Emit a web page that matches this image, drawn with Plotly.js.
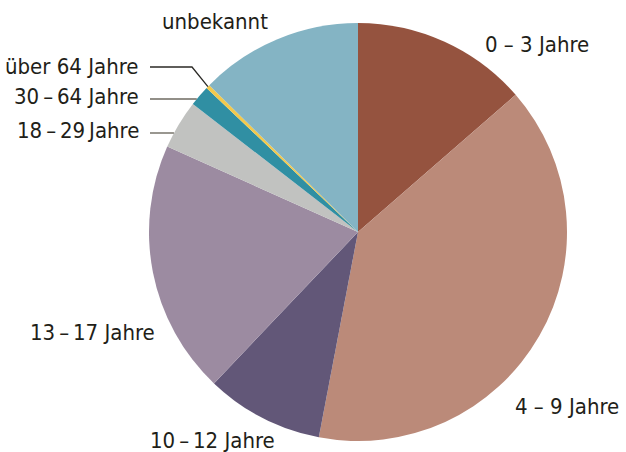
<!DOCTYPE html>
<html><head><meta charset="utf-8">
<script src="https://cdn.plot.ly/plotly-3.0.1.min.js"></script>
<style>html,body{margin:0;padding:0;background:#fff}</style>
</head><body><div id="chart" style="width:626px;height:452px"></div>
<script>
// Data
const categories = ["0 – 3 Jahre", "4 – 9 Jahre", "10\u2009–\u200912 Jahre", "13\u2009–\u200917 Jahre", "18\u2009–\u200929\u2009Jahre", "30\u2009–\u200964 Jahre", "über 64 Jahre", "unbekannt"];
const shares = [13.6, 39.4, 9.1, 19.6, 3.8, 1.6, 0.3, 12.6];
const sliceColors = ["#95533F", "#BB8A79", "#625778", "#9C8BA1", "#C1C2C0", "#308FA3", "#F2C94C", "#84B4C4"];

// Label placement (pixels) – layout only
const labelPos = [
  {x: 483, y: 45, anchor: "left"},
  {x: 513, y: 406, anchor: "left"},
  {x: 148, y: 440, anchor: "left"},
  {x: 157, y: 332, anchor: "right"},
  {x: 141, y: 131, anchor: "right"},
  {x: 141, y: 97, anchor: "right"},
  {x: 141, y: 66, anchor: "right"},
  {x: 160, y: 21, anchor: "left"}
];

const W = 626, H = 452, cx = 358, cy = 232, R = 209;
const px = v => v / W, py = v => 1 - v / H;

const fontFam = "'Liberation Sans Narrow', 'DejaVu Sans Condensed', 'Liberation Sans', sans-serif";
const annotations = categories.map((c, i) => ({
  text: c, xref: "paper", yref: "paper",
  x: px(labelPos[i].x), y: py(labelPos[i].y),
  xanchor: labelPos[i].anchor, yanchor: "middle",
  showarrow: false,
  font: {family: fontFam, size: 22, color: "#221E18"}
}));

// Leader lines for the small slices, ending on the pie rim
const total = shares.reduce((a, b) => a + b, 0);
function rimXAtY(y) { return cx - Math.sqrt(R * R - (y - cy) * (y - cy)); }
const shapes = [];
[4, 5].forEach(i => {
  const y = labelPos[i].y + 2;
  shapes.push({type: "line", xref: "paper", yref: "paper",
    x0: px(150), y0: py(y), x1: px(rimXAtY(y)), y1: py(y),
    line: {color: "#6E6A60", width: 1.4}});
});
// über 64: elbow line to mid-angle of its slice
(function () {
  const i = 6;
  let cum = 0; for (let k = 0; k < i; k++) cum += shares[k];
  const a = 2 * Math.PI * (cum + shares[i] / 2) / total;
  const ex = cx + R * Math.sin(a), ey = cy - R * Math.cos(a);
  const y = labelPos[i].y + 1;
  shapes.push({type: "path", xref: "paper", yref: "paper",
    path: `M ${px(150)} ${py(y)} L ${px(192)} ${py(y)} L ${px(ex)} ${py(ey)}`,
    line: {color: "#2B2A26", width: 1.3}});
})();

const trace = {
  type: "pie",
  labels: categories,
  values: shares,
  sort: false,
  direction: "clockwise",
  rotation: 0,
  textinfo: "none",
  hoverinfo: "label+percent",
  marker: {colors: sliceColors, line: {width: 0}},
  domain: {x: [px(cx - R), px(cx + R)], y: [1 - (cy + R) / H, 1 - (cy - R) / H]},
  showlegend: false
};

Plotly.newPlot("chart", [trace], {
  width: W, height: H,
  margin: {l: 0, r: 0, t: 0, b: 0},
  paper_bgcolor: "#ffffff",
  annotations: annotations,
  shapes: shapes
}, {displayModeBar: false, staticPlot: true});
</script>
</body></html>
